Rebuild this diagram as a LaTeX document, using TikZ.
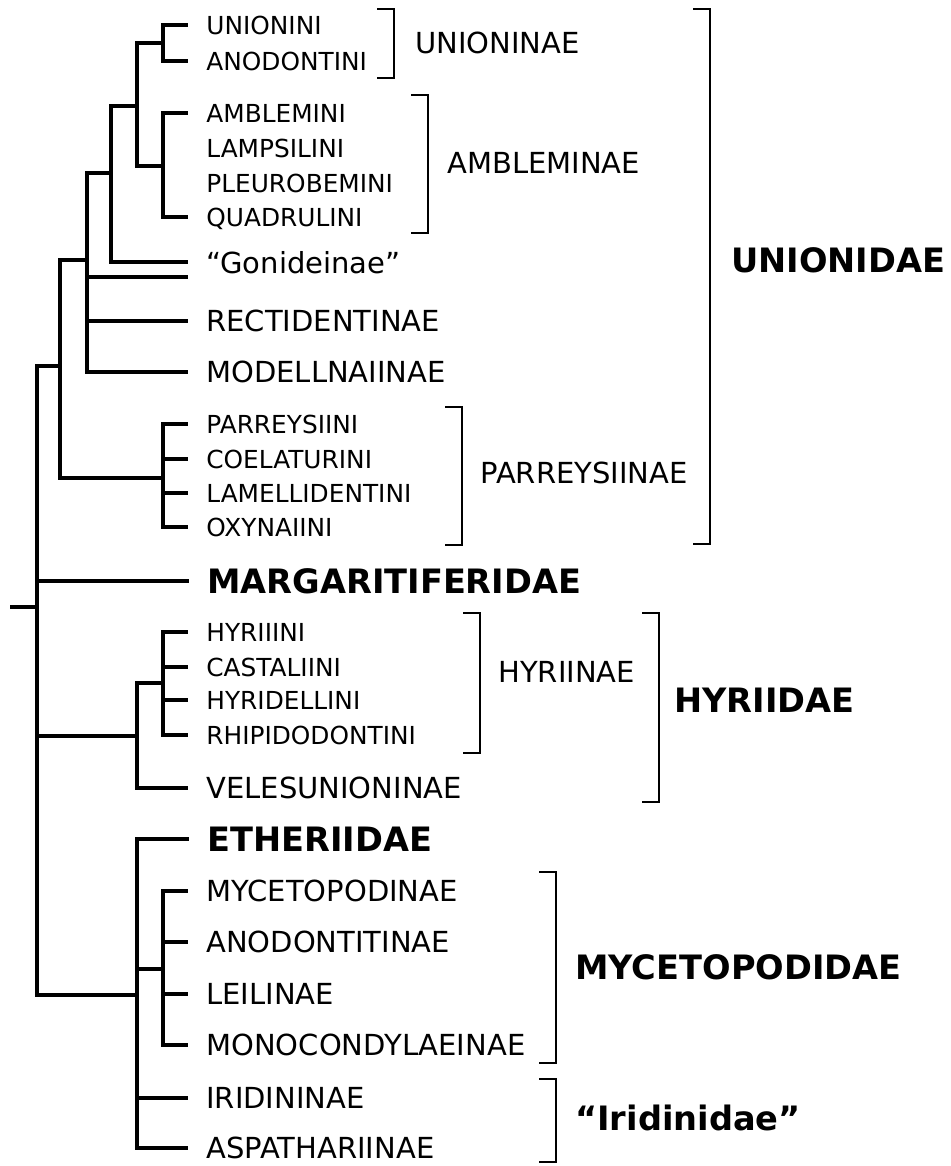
\documentclass[tikz,border=0pt]{standalone}
\usepackage{fontspec}
\setmainfont{DejaVu Sans}
\usepackage{tikz}
\usetikzlibrary{positioning}

\begin{document}
\begin{tikzpicture}[x=0.5pt,y=-0.5pt,
      branch/.style={line width=2pt},
      twig/.style={branch,shorten >=9pt},
      tribe/.style={anchor=west,inner sep=0pt,text depth=0pt,
                    font=\fontsize{12.4}{14}\selectfont},
      subfam/.style={tribe,font=\fontsize{14.5}{17}\selectfont},
      family/.style={tribe,font=\fontsize{16.8}{20}\selectfont\bfseries},
      bracket/.style={line width=1.2pt}]
    \useasboundingbox (0,0) rectangle (951,1166);
    \coordinate (stem) at (10,607);
    \coordinate (root) at (37,607);
    \coordinate (unionidae) at (60,366);
    \coordinate (core) at (87,260);
    \coordinate (uag) at (111,173);
    \coordinate (ua) at (137,106);
    \coordinate (unin) at (163,43);
    \coordinate (ambl) at (163,166);
    \coordinate (parr) at (163,478);
    \coordinate (hyrdae) at (137,736);
    \coordinate (hyrnae) at (163,683);
    \coordinate (ether) at (137,995);
    \coordinate (myce) at (163,969);
    \coordinate (gonB) at (206,277);

    \foreach \n/\y/\t in {unionini/25/UNIONINI,anodontini/61/ANODONTINI,
        amblemini/113/AMBLEMINI,lampsilini/148/LAMPSILINI,
        pleurobemini/183/PLEUROBEMINI,quadrulini/217/QUADRULINI,
        parreysiini/424/PARREYSIINI,coelaturini/459/COELATURINI,
        lamellidentini/493/LAMELLIDENTINI,oxynaiini/527/OXYNAIINI,
        hyriiini/632/HYRIIINI,castaliini/667/CASTALIINI,
        hyridellini/700/HYRIDELLINI,rhipidodontini/735/RHIPIDODONTINI}
      \node[tribe] (\n) at (206,\y) {\t};
    \foreach \n/\y/\t in {gon/262/“Gonideinae”,rect/321/RECTIDENTINAE,
        modell/372/MODELLNAIINAE,veles/788/VELESUNIONINAE,
        mycetop/891/MYCETOPODINAE,anodontit/942/ANODONTITINAE,
        leil/994/LEILINAE,monoc/1045/MONOCONDYLAEINAE,
        iridin/1098/IRIDININAE,aspath/1148/ASPATHARIINAE}
      \node[subfam] (\n) at (206,\y) {\t};
    \node[family] (marg) at (207,581) {MARGARITIFERIDAE};
    \node[family] (etheriidae) at (207,839) {ETHERIIDAE};

    \draw[branch] (stem) -- (root);
    \foreach \a/\b in {root/unionidae,root/hyrdae,root/ether,unionidae/core,
        unionidae/parr,core/uag,uag/ua,ua/unin,ua/ambl,hyrdae/hyrnae,ether/myce}
      \draw[branch] (\a) |- (\b);
    \foreach \a/\b in {unin/unionini,unin/anodontini,ambl/amblemini,
        ambl/quadrulini,uag/gon,core/rect,core/modell,parr/parreysiini,
        parr/coelaturini,parr/lamellidentini,parr/oxynaiini,root/marg,
        hyrnae/hyriiini,hyrnae/castaliini,hyrnae/hyridellini,
        hyrnae/rhipidodontini,hyrdae/veles,ether/etheriidae,myce/mycetop,
        myce/anodontit,myce/leil,myce/monoc,ether/iridin,ether/aspath}
      \draw[twig] (\a) |- (\b.west);
    \draw[twig] (core) |- (gonB);

    \foreach \x/\ya/\yb in {394/9/78,428/95/233,710/9/544,462/407/545,
        480/613/753,659/613/802,556/872/1063,556/1079/1162}
      \draw[bracket] ({\x-17},\ya) -- (\x,\ya) -- (\x,\yb) -- ({\x-17},\yb);
    \node[subfam] (unioninae) at (415,43) {UNIONINAE};
    \node[subfam] (ambleminae) at (447,163) {AMBLEMINAE};
    \node[family] (unionidaelab) at (731,260) {UNIONIDAE};
    \node[subfam] (parreysiinae) at (480,473) {PARREYSIINAE};
    \node[subfam] (hyriinae) at (498,672) {HYRIINAE};
    \node[family] (hyriidaelab) at (674,700) {HYRIIDAE};
    \node[family] (mycetopodidae) at (575,967) {MYCETOPODIDAE};
    \node[family] (iridinidae) at (575,1118) {“Iridinidae”};
  \end{tikzpicture}
\end{document}
